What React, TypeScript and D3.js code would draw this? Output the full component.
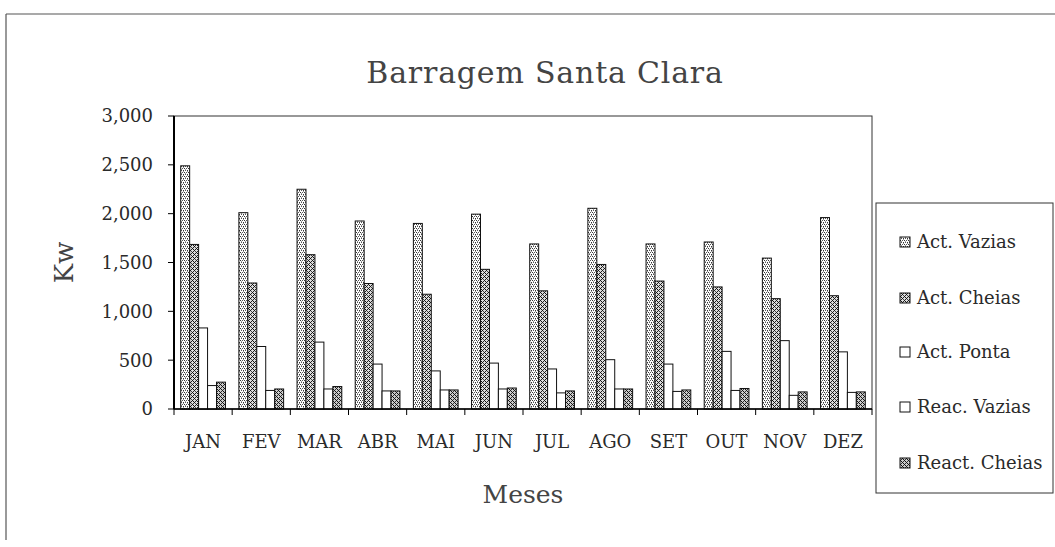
import React from "react";
import * as d3 from "d3";

const months = ["JAN", "FEV", "MAR", "ABR", "MAI", "JUN", "JUL", "AGO", "SET", "OUT", "NOV", "DEZ"];
const seriesNames = ["Act. Vazias", "Act. Cheias", "Act. Ponta", "Reac. Vazias", "React. Cheias"];
const actVazias = [2490, 2010, 2250, 1925, 1900, 1995, 1690, 2055, 1690, 1710, 1545, 1960];
const actCheias = [1685, 1290, 1580, 1285, 1175, 1430, 1210, 1480, 1310, 1250, 1130, 1160];
const actPonta = [830, 640, 685, 460, 390, 470, 410, 505, 460, 590, 700, 585];
const reacVazias = [240, 190, 205, 185, 195, 205, 165, 205, 180, 190, 140, 170];
const reactCheias = [275, 205, 230, 185, 195, 215, 185, 205, 195, 210, 175, 175];
const yTicks = [0, 500, 1000, 1500, 2000, 2500, 3000];

const seriesValues = [actVazias, actCheias, actPonta, reacVazias, reactCheias];
const fills = ["url(#patLight)", "url(#patDark)", "#ffffff", "#ffffff", "url(#patDark2)"];

const W = 1055;
const H = 547;
const plot = { left: 174, right: 872, top: 116, bottom: 409 };
const FONT = "'DejaVu Serif', serif";
const TXT = "#2a2a2a";

export default function App() {
  const x = d3.scaleBand<string>().domain(months).range([plot.left, plot.right]).paddingInner(0).paddingOuter(0);
  const xs = d3.scaleBand<string>().domain(seriesNames).range([0, x.bandwidth()]).paddingInner(0).paddingOuter(0.75);
  const y = d3.scaleLinear().domain([0, 3000]).range([plot.bottom, plot.top]);
  const fmt = d3.format(",");
  const boundaries = d3.range(months.length + 1).map((i) => plot.left + i * x.step());
  const legendY = [242, 298, 352, 407, 463];

  return (
    <svg width={W} height={H} style={{ position: "absolute", left: 0, top: 0, background: "#fff" }}>
      <defs>
        <pattern id="patLight" width="4" height="4" patternUnits="userSpaceOnUse">
          <rect width="4" height="4" fill="#fff" />
          <rect x="0" y="0" width="1" height="1" fill="#333" />
          <rect x="2" y="0" width="1" height="1" fill="#555" />
          <rect x="1" y="2" width="1" height="1" fill="#555" />
          <rect x="3" y="2" width="1" height="1" fill="#333" />
          <rect x="1" y="1" width="1" height="1" fill="#999" />
          <rect x="3" y="3" width="1" height="1" fill="#999" />
        </pattern>
        <pattern id="patDark" width="4" height="4" patternUnits="userSpaceOnUse">
          <rect width="4" height="4" fill="#ddd" />
          <rect x="0" y="0" width="1" height="1" fill="#111" />
          <rect x="1" y="1" width="1" height="1" fill="#111" />
          <rect x="2" y="2" width="1" height="1" fill="#111" />
          <rect x="3" y="3" width="1" height="1" fill="#444" />
          <rect x="3" y="1" width="1" height="1" fill="#222" />
          <rect x="1" y="3" width="1" height="1" fill="#222" />
        </pattern>
        <pattern id="patDark2" width="4" height="4" patternUnits="userSpaceOnUse">
          <rect width="4" height="4" fill="#ccc" />
          <rect x="0" y="0" width="1" height="1" fill="#111" />
          <rect x="1" y="1" width="1" height="1" fill="#111" />
          <rect x="2" y="2" width="1" height="1" fill="#111" />
          <rect x="3" y="3" width="1" height="1" fill="#111" />
          <rect x="3" y="1" width="1" height="1" fill="#333" />
          <rect x="1" y="3" width="1" height="1" fill="#333" />
        </pattern>
      </defs>

      {/* outer frame */}
      <line x1={6} y1={14} x2={W} y2={14} stroke="#555" strokeWidth={1.2} />
      <line x1={6} y1={14} x2={6} y2={540} stroke="#555" strokeWidth={1.2} />

      {/* title */}
      <text x={545} y={83} textAnchor="middle" fontFamily={FONT} fontSize={30} fill="#444" letterSpacing={0.8}>
        Barragem Santa Clara
      </text>

      {/* plot frame */}
      <rect x={plot.left} y={plot.top} width={plot.right - plot.left} height={plot.bottom - plot.top} fill="none" stroke="#333" strokeWidth={1} />

      {/* bars */}
      {seriesValues.map((vals, si) =>
        vals.map((v, mi) => {
          const bx = (x(months[mi]) as number) + (xs(seriesNames[si]) as number);
          return (
            <rect
              key={`${si}-${mi}`}
              x={bx}
              y={y(v)}
              width={xs.bandwidth()}
              height={y(0) - y(v)}
              fill={fills[si]}
              stroke="#111"
              strokeWidth={1}
            />
          );
        })
      )}

      {/* axes */}
      <line x1={plot.left} y1={plot.top} x2={plot.left} y2={plot.bottom} stroke="#000" strokeWidth={2} />
      <line x1={plot.left} y1={plot.bottom} x2={plot.right} y2={plot.bottom} stroke="#000" strokeWidth={1.5} />
      {yTicks.map((t) => (
        <g key={t}>
          <line x1={plot.left - 6} x2={plot.left} y1={y(t)} y2={y(t)} stroke="#000" strokeWidth={1} />
          <text x={153} y={y(t)} dy="0.36em" textAnchor="end" fontFamily={FONT} fontSize={18} fill={TXT}>
            {fmt(t)}
          </text>
        </g>
      ))}
      {boundaries.map((bx, i) => (
        <line key={i} x1={bx} x2={bx} y1={plot.bottom} y2={plot.bottom + 6} stroke="#000" strokeWidth={1} />
      ))}
      {months.map((m) => (
        <text
          key={m}
          x={(x(m) as number) + x.bandwidth() / 2}
          y={442}
          dy="0.36em"
          textAnchor="middle"
          fontFamily={FONT}
          fontSize={18}
          fill={TXT}
        >
          {m}
        </text>
      ))}

      {/* axis titles */}
      <text x={(plot.left + plot.right) / 2} y={494} dy="0.36em" textAnchor="middle" fontFamily={FONT} fontSize={25} fill="#444">
        Meses
      </text>
      <text
        transform={`translate(64, ${(plot.top + plot.bottom) / 2}) rotate(-90)`}
        textAnchor="middle"
        dy="0.36em"
        fontFamily={FONT}
        fontSize={26}
        fill="#444"
      >
        Kw
      </text>

      {/* legend */}
      <rect x={876} y={203} width={177} height={290} fill="#fff" stroke="#333" strokeWidth={1} />
      {seriesNames.map((s, i) => (
        <g key={s}>
          <rect x={900} y={legendY[i] - 5} width={10} height={10} fill={fills[i]} stroke="#111" strokeWidth={1} />
          <text x={917} y={legendY[i]} dy="0.36em" fontFamily={FONT} fontSize={18} fill={TXT}>
            {s}
          </text>
        </g>
      ))}
    </svg>
  );
}
